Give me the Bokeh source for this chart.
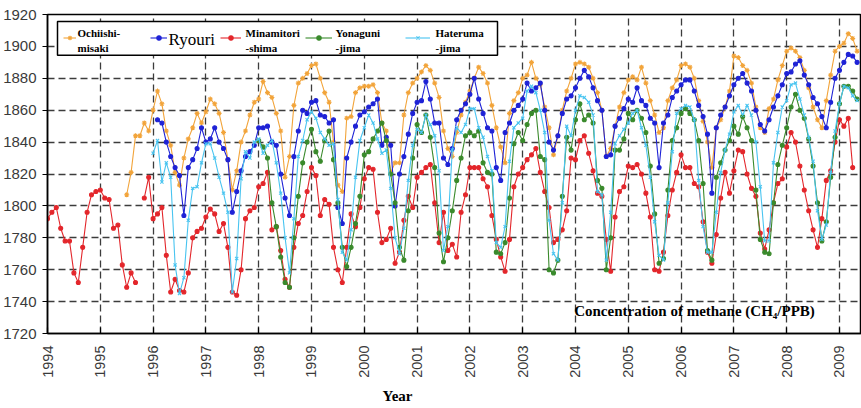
import math
import numpy as np
from bokeh.plotting import figure
from bokeh.models import (Range1d, FixedTicker, Label, BoxAnnotation, Legend, LegendItem,
                          ColumnDataSource, Title)
from bokeh.embed import file_html
from bokeh.resources import INLINE

# ---------------- data (monthly means, ppb) ----------------
year_ticks = list(range(1994, 2010))
ppb_ticks = list(range(1720, 1921, 20))

ochiishi_start = (1995, 7)
ochiishi = [
    1807, 1821, 1844, 1844, 1852, 1847,
    1860, 1872, 1864, 1847, 1838, 1821, 1813, 1830, 1842, 1849, 1858, 1852,
    1859, 1867, 1864, 1858, 1846, 1829, 1810, 1822, 1840, 1847, 1857, 1865,
    1867, 1878, 1871, 1868, 1858, 1847, 1818, 1831, 1863, 1877, 1880, 1883,
    1888, 1889, 1880, 1871, 1865, 1840, 1813, 1809, 1855, 1856, 1871, 1874,
    1875, 1875, 1876, 1871, 1852, 1847, 1821, 1827, 1827, 1857, 1871, 1877,
    1880, 1884, 1888, 1885, 1877, 1868, 1847, 1836, 1831, 1846, 1857, 1865,
    1872, 1880, 1887, 1883, 1877, 1863, 1849, 1837, 1827, 1858, 1866, 1871,
    1880, 1882, 1890, 1880, 1876, 1862, 1849, 1832, 1844, 1860, 1872, 1880,
    1889, 1890, 1889, 1887, 1880, 1871, 1860, 1831, 1836, 1850, 1862, 1871,
    1879, 1881, 1879, 1887, 1877, 1866, 1857, 1846, 1849, 1866, 1874, 1879,
    1888, 1889, 1887, 1880, 1866, 1853, 1840, 1824, 1849, 1854, 1862, 1872,
    1894, 1893, 1888, 1885, 1877, 1862, 1849, 1846, 1861, 1867, 1879, 1888,
    1897, 1899, 1897, 1893, 1885, 1874, 1862, 1854, 1849, 1866, 1882, 1897,
    1900, 1902, 1908, 1905, 1897,
]

ryouri_start = (1996, 2)
ryouri = [
    1854, 1852, 1840, 1831, 1824, 1819, 1794, 1824, 1829, 1836, 1849,
    1840, 1842, 1849, 1840, 1836, 1829, 1796, 1809, 1822, 1831, 1834, 1838,
    1849, 1849, 1850, 1840, 1838, 1820, 1805, 1794, 1831, 1847, 1860, 1858,
    1865, 1866, 1857, 1856, 1852, 1854, 1799, 1789, 1830, 1840, 1850, 1857,
    1859, 1862, 1864, 1867, 1838, 1843, 1838, 1800, 1820, 1831, 1845, 1858,
    1865, 1866, 1878, 1867, 1852, 1852, 1830, 1826, 1836, 1854, 1860, 1864,
    1870, 1880, 1867, 1858, 1849, 1847, 1824, 1816, 1846, 1852, 1860, 1863,
    1867, 1877, 1872, 1874, 1877, 1860, 1840, 1835, 1844, 1858, 1867, 1869,
    1874, 1880, 1885, 1881, 1874, 1866, 1860, 1831, 1832, 1850, 1855, 1861,
    1867, 1865, 1874, 1866, 1863, 1855, 1852, 1824, 1852, 1857, 1868, 1872,
    1876, 1879, 1879, 1872, 1863, 1856, 1845, 1808, 1849, 1857, 1862, 1869,
    1876, 1880, 1883, 1877, 1872, 1860, 1851, 1847, 1854, 1862, 1869, 1876,
    1883, 1884, 1889, 1891, 1882, 1876, 1868, 1864, 1856, 1849, 1865, 1880,
    1885, 1890, 1895, 1894, 1890,
]

minamitori_start = (1994, 1)
minamitori = [
    1792, 1796, 1799, 1786, 1778, 1778, 1758, 1752, 1774, 1796, 1807, 1809,
    1810, 1805, 1804, 1786, 1788, 1763, 1749, 1758, 1752, None, 1805, 1818,
    1792, 1795, 1799, 1769, 1746, 1754, 1747, 1746, 1758, 1780, 1784, 1786,
    1793, 1798, 1795, 1784, 1789, 1774, 1746, 1744, 1760, 1792, 1797, 1799,
    1812, 1814, 1821, 1785, 1787, 1772, 1754, 1749, 1774, 1789, 1794, 1809,
    1824, 1819, 1794, 1804, 1801, 1774, 1760, 1752, 1774, 1795, 1787, 1799,
    1817, 1824, 1823, 1796, 1777, 1779, 1786, 1764, 1771, 1791, 1806, 1799,
    1818, 1821, 1824, 1826, 1802, 1777, 1796, 1772, 1776, 1768, 1796, 1807,
    1824, 1824, 1824, 1817, 1812, 1794, 1779, 1768, 1759, 1779, 1812, 1820,
    1824, 1829, 1832, 1836, 1821, 1809, 1799, 1777, 1779, 1785, 1797, 1830,
    1829, 1841, 1844, 1833, 1822, 1808, 1806, 1779, 1759, 1793, 1809, 1812,
    1825, 1824, 1826, 1820, 1808, 1793, 1760, 1759, 1771, 1794, 1810, 1821,
    1832, 1824, 1824, 1814, 1812, 1790, 1771, 1764, 1782, 1805, 1821, 1808,
    1822, 1835, 1834, 1820, 1811, 1806, 1783, 1773, 1785, 1802, 1814, 1817,
    1837, 1846, 1840, 1825, 1810, 1797, 1785, 1774, 1792, 1816, 1822, 1840,
    1854, 1850, 1855, 1824,
]

yonaguni_start = (1998, 1)
yonaguni = [
    1841, 1837, 1830, 1802, 1787, 1768, 1752, 1749, 1780, 1806, 1827, 1840,
    1848, 1834, 1828, 1841, 1847, 1829, 1802, 1774, 1762, 1774, 1789, 1806,
    1832, 1834, 1842, 1847, 1852, 1841, 1820, 1802, 1774, 1766, 1797, 1830,
    1851, 1846, 1857, 1843, 1824, 1783, 1765, 1780, 1797, 1816, 1830, 1844,
    1846, 1844, 1847, 1827, 1821, 1820, 1771, 1770, 1777, 1805, 1839, 1846,
    1841, 1851, 1858, 1860, 1831, 1829, 1760, 1758, 1766, 1806, 1843, 1835,
    1854, 1864, 1854, 1857, 1852, 1816, 1811, 1760, 1780, 1835, 1835, 1842,
    1858, 1854, 1860, 1855, 1846, 1825, 1795, 1764, 1767, 1810, 1841, 1849,
    1858, 1861, 1858, 1854, 1841, 1814, 1772, 1766, 1818, 1827, 1835, 1841,
    1850, 1845, 1856, 1849, 1841, 1810, 1779, 1771, 1770, 1802, 1826, 1838,
    1849, 1862, 1870, 1860, 1855, 1842, 1825, 1802, 1778, 1790, 1818, 1843,
    1864, 1875, 1875, 1872, 1867,
]

hateruma_start = (1996, 1)
hateruma = [
    1833, 1841, 1815, 1827, 1818, 1763, 1745, 1755, 1791, 1811, 1812, 1827,
    1839, 1839, 1830, 1818, 1808, 1796, 1746, 1767, 1817, 1834, 1830, 1840,
    1842, 1833, 1838, 1841, 1827, 1808, 1780, 1758, 1792, 1831, 1841, 1854,
    1859, 1855, 1846, 1842, 1838, 1839, 1804, 1771, 1766, 1785, 1818, 1841,
    1849, 1857, 1852, 1842, 1833, 1835, 1811, 1780, 1770, 1786, 1816, 1838,
    1848, 1846, 1857, 1851, 1844, 1822, 1772, 1787, 1835, 1849, 1846, 1851,
    1861, 1861, 1849, 1843, 1831, 1822, 1777, 1774, 1787, 1828, 1849, 1852,
    1855, 1872, 1875, 1871, 1860, 1846, 1791, 1770, 1766, 1802, 1850, 1844,
    1860, 1869, 1868, 1865, 1857, 1809, 1807, 1766, 1796, 1839, 1844, 1848,
    1852, 1858, 1860, 1849, 1838, 1818, 1790, 1769, 1766, 1802, 1834, 1858,
    1861, 1863, 1862, 1854, 1816, 1787, 1771, 1771, 1796, 1821, 1835, 1845,
    1859, 1863, 1857, 1863, 1857, 1840, 1812, 1778, 1778, 1827, 1846, 1862,
    1866, 1876, 1877, 1867, 1857, 1843, 1828, 1797, 1779, 1788, 1821, 1847,
    1864, 1875, 1874, 1869, 1866,
]

series_labels = ["Ochiishi-\nmisaki", "Ryouri", "Minamitori\n-shima", "Yonaguni\n-jima", "Hateruma\n-jima"]
series_colors = ["#F2A43A", "#1E22D6", "#E3262B", "#3A8A2C", "#48C4F0"]

# ---------------- layout ----------------
W, H = 861, 408
LEFT, TOP, BOTTOM = 47, 14, 74
X0, X1 = 1994.0, 2009.417
Y0, Y1 = 1720.0, 1920.0
FW = W - LEFT
FH = H - TOP - BOTTOM


def px_x(px):
    return X0 + (px - LEFT) * (X1 - X0) / FW


def px_y(py):
    return Y1 - (py - TOP) * (Y1 - Y0) / FH


def month_times(start, n):
    y0, m0 = start
    return [y0 + (m0 - 1 + i) / 12.0 for i in range(n)]


p = figure(width=W, height=H, output_backend="svg", toolbar_location=None,
           x_range=Range1d(X0, X1), y_range=Range1d(Y0, Y1),
           min_border_left=LEFT, min_border_right=0, min_border_top=TOP,
           min_border_bottom=BOTTOM, background_fill_color="white",
           border_fill_color="white")
p.outline_line_color = "black"
p.outline_line_width = 1.5

for ax in (p.xaxis[0], p.yaxis[0]):
    ax.axis_line_color = "black"
    ax.axis_line_width = 1.5
    ax.major_tick_line_color = "black"
    ax.major_tick_line_width = 1.2
    ax.minor_tick_line_color = None
    ax.major_label_text_font = "Liberation Sans"
    ax.major_label_text_color = "#3a3a3a"

p.xaxis.ticker = FixedTicker(ticks=year_ticks)
p.xaxis.major_label_orientation = math.pi / 2
p.xaxis.major_label_text_font_size = "14.5px"
p.xaxis.major_tick_in = 6
p.xaxis.major_tick_out = 0
p.xaxis.major_label_standoff = 12

p.yaxis.ticker = FixedTicker(ticks=ppb_ticks)
p.yaxis.major_label_text_font_size = "15px"
p.yaxis.major_tick_in = 0
p.yaxis.major_tick_out = 5
p.yaxis.major_label_standoff = 6

p.xgrid.ticker = FixedTicker(ticks=year_ticks)
p.ygrid.ticker = FixedTicker(ticks=ppb_ticks)
for g in (p.xgrid[0], p.ygrid[0]):
    g.grid_line_color = "#3c3c3c"
    g.grid_line_dash = "7 4"
    g.grid_line_width = 1.3

all_series = [
    (ochiishi_start, ochiishi, "asterisk", 5),
    (ryouri_start, ryouri, "circle", 4),
    (minamitori_start, minamitori, "circle", 4),
    (yonaguni_start, yonaguni, "circle", 4),
    (hateruma_start, hateruma, "x", 4.5),
]

renderers = []
for (start, vals, marker, size), color in zip(all_series, series_colors):
    v = np.array([np.nan if a is None else a for a in vals], dtype=float)
    src = ColumnDataSource(dict(t=month_times(start, len(v)), v=v))
    rl = p.line("t", "v", source=src, line_color=color, line_width=1.1)
    rs = p.scatter("t", "v", source=src, marker=marker, size=size,
                   line_color=color, fill_color=color, line_width=1.1)
    renderers.append((rl, rs))

# legend frame
box = BoxAnnotation(left=px_x(57), right=px_x(497), top=px_y(21), bottom=px_y(55),
                    fill_color="white", fill_alpha=1.0, line_color="black",
                    line_width=1.5, line_alpha=1.0)
p.add_layout(box)

# legend entries: glyph left px, glyph width, text left px, font size, weight
GLYPH_H = 11
GLYPH_CY = 38.5
entry_geom = [
    (63, 13, 77, "11px", "bold"),
    (150, 17, 168, "17px", "normal"),
    (220, 21, 245, "11px", "bold"),
    (305, 27, 335, "11px", "bold"),
    (405, 25, 435, "11px", "bold"),
]
for (rl, rs), lab, (gx, gw, tx, fs, st) in zip(renderers, series_labels, entry_geom):
    leg = Legend(items=[LegendItem(label=" ", renderers=[rl, rs])],
                 location=(gx - LEFT, (LEFT * 0 + 334 - GLYPH_CY) - GLYPH_H / 2),
                 orientation="horizontal", padding=0, margin=0, spacing=0,
                 border_line_color=None, background_fill_alpha=0.0,
                 glyph_width=gw, glyph_height=GLYPH_H, label_standoff=0,
                 label_width=0, label_height=GLYPH_H, label_text_font_size="1px")
    p.add_layout(leg)
    p.add_layout(Label(x=px_x(tx), y=px_y(40 if "\n" in lab else 39), text=lab,
                       text_font="Liberation Serif", text_font_style=st,
                       text_font_size=fs, text_line_height=1.25,
                       text_align="left", text_baseline="middle", text_color="black"))

p.add_layout(Label(x=px_x(694), y=px_y(311), text="Concentration of methane (CH\u2084/PPB)",
                   text_font="Liberation Serif", text_font_style="bold",
                   text_font_size="15px", text_align="center", text_baseline="middle",
                   text_color="black"))

p.add_layout(Title(text="Year", align="left", offset=335, standoff=10,
                   text_font="Liberation Serif", text_font_style="bold",
                   text_font_size="15px", text_color="black"), "below")

open("out.html", "w").write(file_html(p, INLINE))
